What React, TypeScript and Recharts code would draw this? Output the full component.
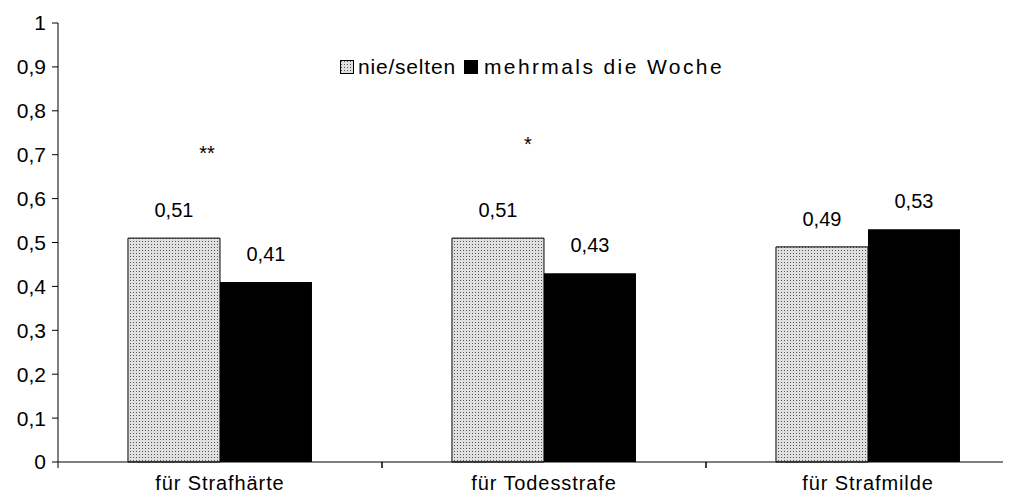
import React from "react";
import { BarChart, Bar, XAxis, YAxis, LabelList, ReferenceDot } from "recharts";

const categories = ["für Strafhärte", "für Todesstrafe", "für Strafmilde"];
const nieSelten = [0.51, 0.51, 0.49];
const mehrmals = [0.41, 0.43, 0.53];
const yTicks = [0, 0.1, 0.2, 0.3, 0.4, 0.5, 0.6, 0.7, 0.8, 0.9, 1];
const sigMarks = ["**", "*", ""];
const sigValues = [0.705, 0.725, 0];
const seriesNames = ["nie/selten", "mehrmals die Woche"];

const data = categories.map((c, i) => ({ cat: c, a: nieSelten[i], b: mehrmals[i] }));

const FONT = "'Liberation Sans', Arial, sans-serif";
const fmt = (v: number) => String(v).replace(".", ",");

const XTick = (props: any) => {
  const { x, y, payload } = props;
  const half = payload && payload.offset ? payload.offset : 162;
  return (
    <g>
      <line x1={x - half} y1={y} x2={x - half} y2={y + 6} stroke="#000" />
      <line x1={x + half} y1={y} x2={x + half} y2={y + 6} stroke="#000" />
      <text x={x} y={y + 28} textAnchor="middle" fontSize={20} fontFamily={FONT} fill="#000" style={{ letterSpacing: "0.9px" }}>
        {payload.value}
      </text>
    </g>
  );
};

const LegendBox = () => (
  <div
    style={{
      position: "absolute",
      top: 56,
      left: 340,
      display: "flex",
      alignItems: "center",
      fontFamily: FONT,
      fontSize: 21,
      color: "#000",
      whiteSpace: "nowrap",
      lineHeight: "22px",
    }}
  >
    <svg width={14} height={14} style={{ marginRight: 4 }}>
      <rect x={0.5} y={0.5} width={13} height={13} fill="url(#dotsLegend)" stroke="#000" />
    </svg>
    <span style={{ marginRight: 8, letterSpacing: "0.8px" }}>{seriesNames[0]}</span>
    <svg width={14} height={14} style={{ marginRight: 6 }}>
      <rect x={0} y={0} width={14} height={14} fill="#000" />
    </svg>
    <span style={{ letterSpacing: "2.4px" }}>{seriesNames[1]}</span>
  </div>
);

export default function App() {
  return (
    <div style={{ margin: -8, width: 1011, height: 501, overflow: "hidden", background: "#fff", position: "relative" }}>
      <svg width={0} height={0} style={{ position: "absolute" }}>
        <defs>
          <pattern id="dotsLegend" patternUnits="userSpaceOnUse" width={3} height={3}>
            <rect width={3} height={3} fill="#e0e0e0" />
            <rect x={1} y={1} width={1} height={1} fill="#555" />
          </pattern>
        </defs>
      </svg>
      <BarChart
        width={1040}
        height={501}
        data={data}
        margin={{ top: 23, right: 10, left: 0, bottom: 0 }}
        barCategoryGap="21.6%"
        barGap={0}
      >
        <defs>
          <pattern id="dots" patternUnits="userSpaceOnUse" width={3} height={3}>
            <rect width={3} height={3} fill="#e0e0e0" />
            <rect x={1} y={1} width={1} height={1} fill="#555" />
          </pattern>
        </defs>
        <XAxis
          dataKey="cat"
          axisLine={{ stroke: "#000" }}
          tickLine={false}
          tickSize={0}
          tickMargin={0}
          tick={<XTick />}
          height={39}
          interval={0}
        />
        <YAxis
          domain={[0, 1]}
          ticks={yTicks}
          width={58}
          axisLine={{ stroke: "#000" }}
          tickLine={{ stroke: "#000" }}
          tickSize={6}
          tickMargin={6}
          tickFormatter={fmt}
          tick={{ fontSize: 21, fontFamily: FONT, fill: "#000" }}
          interval={0}
        />
        <Bar dataKey="a" name={seriesNames[0]} fill="url(#dots)" stroke="#000" strokeWidth={1} isAnimationActive={false}>
          <LabelList dataKey="a" position="top" offset={21} formatter={fmt as any} style={{ fontSize: 20, fontFamily: FONT, fill: "#000" }} />
        </Bar>
        <Bar dataKey="b" name={seriesNames[1]} fill="#000" isAnimationActive={false}>
          <LabelList dataKey="b" position="top" offset={21} formatter={fmt as any} style={{ fontSize: 20, fontFamily: FONT, fill: "#000" }} />
        </Bar>
        {categories.map((c, i) =>
          sigMarks[i] ? (
            <ReferenceDot
              key={c}
              x={c}
              y={sigValues[i]}
              r={0}
              fill="none"
              stroke="none"
              ifOverflow="visible"
              label={{ value: sigMarks[i], position: "center", dx: i === 0 ? -13 : -16, fontSize: 20, fontFamily: FONT, fill: "#000" }}
            />
          ) : null
        )}
      </BarChart>
      <LegendBox />
    </div>
  );
}
